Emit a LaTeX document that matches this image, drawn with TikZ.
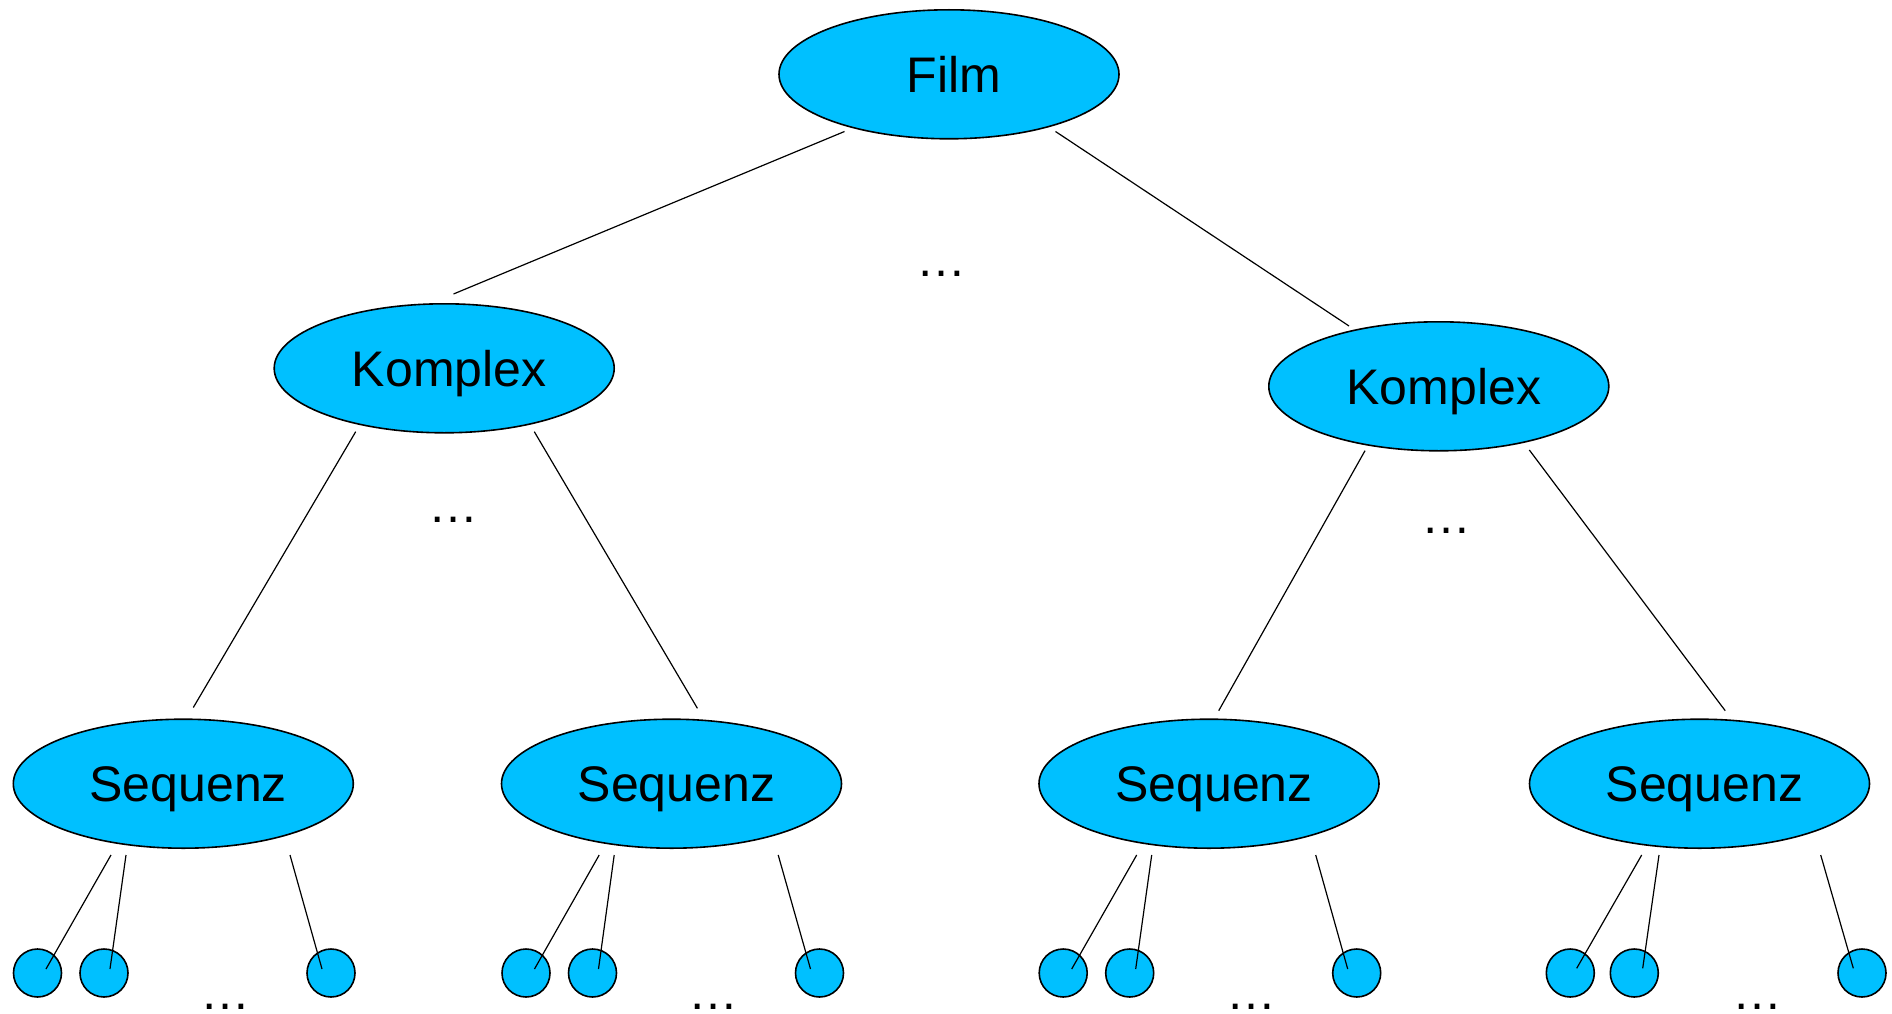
\documentclass[tikz,border=0pt]{standalone}
\usepackage{fontspec}
\setmainfont{Liberation Sans}
\usetikzlibrary{shapes.geometric,calc}
\definecolor{nodefill}{RGB}{0,192,255}
\begin{document}
\begin{tikzpicture}[x=1pt,y=-1pt,
  big/.style={ellipse,draw=black,fill=nodefill,line width=1.6pt,minimum width=340pt,minimum height=129pt,inner sep=0pt,font=\fontsize{50}{60}\selectfont,text height=36pt,text depth=0pt},
  leaf/.style={circle,draw=black,fill=nodefill,line width=1.6pt,minimum size=48pt,inner sep=0pt},
  edge/.style={line width=1.2pt},
  dots/.style={anchor=base,inner sep=0pt,font=\fontsize{50}{60}\selectfont}]
\useasboundingbox (0,0) rectangle (1892,1014);

% main nodes
\node[big] (film) at (949,74.3) {\hspace{10pt}Film};
\node[big] (kl) at (444.2,368.3) {\hspace{10pt}Komplex};
\node[big] (kr) at (1438.8,386.3) {\hspace{10pt}Komplex};
\node[big] (s1) at (183.3,783.7) {\hspace{10pt}Sequenz};
\node[big] (s2) at (671.5,783.7) {\hspace{10pt}Sequenz};
\node[big] (s3) at (1209,783.7) {\hspace{10pt}Sequenz};
\node[big] (s4) at (1699.5,783.7) {\hspace{10pt}Sequenz};

% leaves
\node[leaf] (a1) at (37.5,973) {};
\node[leaf] (a2) at (104,973) {};
\node[leaf] (a3) at (331,973) {};
\node[leaf] (b1) at (526,973) {};
\node[leaf] (b2) at (592.5,973) {};
\node[leaf] (b3) at (819.5,973) {};
\node[leaf] (c1) at (1063.2,973) {};
\node[leaf] (c2) at (1129.7,973) {};
\node[leaf] (c3) at (1356.7,973) {};
\node[leaf] (d1) at (1570.3,973) {};
\node[leaf] (d2) at (1634.3,973) {};
\node[leaf] (d3) at (1862,973) {};

% dots
\node[dots] (dotf) at (941.3,276) {…};
\node[dots] (dotl) at (453,522) {…};
\node[dots] (dotr) at (1446.8,533) {…};
\node[dots] (dota) at (225,1009) {…};
\node[dots] (dotb) at (713.5,1009) {…};
\node[dots] (dotc) at (1251,1009) {…};
\node[dots] (dotd) at (1757,1009) {…};

% connectors
\draw[edge] ($(film)+(-104.5,57.2)$) -- ($(kl)+(9.3,-74.3)$);
\draw[edge] ($(film)+(106.5,57.2)$) -- ($(kr)+(-89.8,-60.3)$);

\draw[edge] ($(kl)+(-88.5,63.4)$) -- ($(s1)+(10,-76.2)$);
\draw[edge] ($(kl)+(90.1,63.4)$) -- ($(s2)+(25.9,-75.4)$);
\draw[edge] ($(kr)+(-73.8,64.4)$) -- ($(s3)+(9.7,-73)$);
\draw[edge] ($(kr)+(90.5,63.7)$) -- ($(s4)+(25.7,-73)$);

\draw[edge] ($(s1)+(-72.3,71.3)$) -- ($(a1)+(8.5,-4)$);
\draw[edge] ($(s1)+(-57.3,71.3)$) -- ($(a2)+(6,-4)$);
\draw[edge] ($(s1)+(106.7,71.3)$) -- ($(a3)+(-9,-4)$);

\draw[edge] ($(s2)+(-72.3,71.3)$) -- ($(b1)+(8.5,-4)$);
\draw[edge] ($(s2)+(-57.3,71.3)$) -- ($(b2)+(6,-4)$);
\draw[edge] ($(s2)+(106.7,71.3)$) -- ($(b3)+(-9,-4)$);

\draw[edge] ($(s3)+(-72.3,71.3)$) -- ($(c1)+(8.5,-4)$);
\draw[edge] ($(s3)+(-57.3,71.3)$) -- ($(c2)+(6,-4)$);
\draw[edge] ($(s3)+(106.7,71.3)$) -- ($(c3)+(-9,-4)$);

\draw[edge] ($(s4)+(-57.8,71.3)$) -- ($(d1)+(6.4,-4.7)$);
\draw[edge] ($(s4)+(-40.5,71.3)$) -- ($(d2)+(8.4,-4.7)$);
\draw[edge] ($(s4)+(121.2,71.3)$) -- ($(d3)+(-8.7,-4.7)$);
\end{tikzpicture}
\end{document}
